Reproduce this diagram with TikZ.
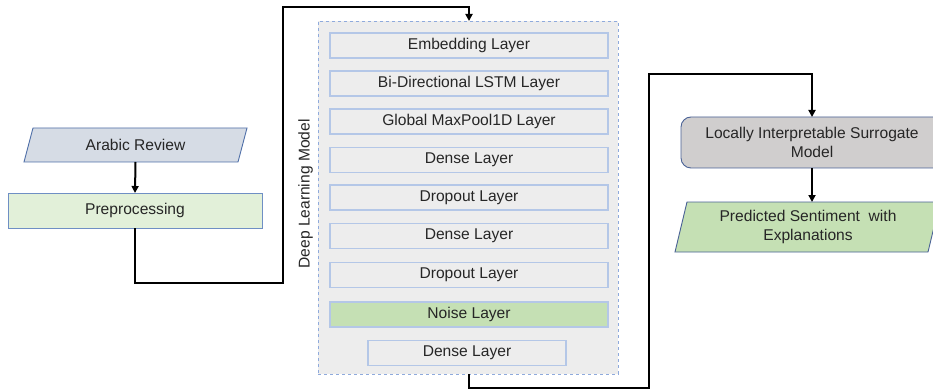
\documentclass[tikz,border=0pt]{standalone}
\usepackage{fontspec}
\setmainfont{Liberation Sans}
\usetikzlibrary{arrows.meta}
\definecolor{txt}{HTML}{262626}
\definecolor{arfill}{HTML}{D6DCE5}
\definecolor{arline}{HTML}{4F6FA8}
\definecolor{prfill}{HTML}{E2F0D9}
\definecolor{prline}{HTML}{6F8FC4}
\definecolor{cfill}{HTML}{EDEDED}
\definecolor{cline}{HTML}{8FAADC}
\definecolor{lline}{HTML}{B4C7E7}
\definecolor{nfill}{HTML}{C5E0B4}
\definecolor{lisfill}{HTML}{D0CECE}
\definecolor{lisline}{HTML}{4A6296}
\definecolor{pdfill}{HTML}{C5E0B4}
\tikzset{
  base/.style={inner sep=0pt, outer sep=0pt, font=\fontsize{15.6}{19}\selectfont, text=txt, align=center},
  layer/.style={base, draw=lline, line width=1.1pt, fill=cfill, minimum width=278pt, minimum height=25pt},
  conn/.style={draw=black, line width=2pt},
  arr/.style={conn, -{Triangle[length=7pt,width=7pt]}},
}
\begin{document}
\begin{tikzpicture}[x=1pt,y=-1pt]
\clip (0,0) rectangle (933,390);
\fill[white] (0,0) rectangle (933,390);
% input
\node[base, minimum width=223pt, minimum height=34pt] (ar) at (135.5,145) {Arabic Review};
\draw[arline, fill=arfill, line width=0.9pt] ([xshift=9pt]ar.north west) -- (ar.north east) -- ([xshift=-9pt]ar.south east) -- (ar.south west) -- cycle;
\node[base, minimum width=223pt, minimum height=34pt] at (135.5,145) {Arabic Review};
\node[base, draw=prline, fill=prfill, line width=0.9pt, minimum width=254pt, minimum height=35pt] (pre) at (135,210.5) {Preprocessing};
\draw[arr] (ar.south) -- (pre.north);
% container
\node[base, draw=cline, dashed, fill=cfill, line width=0.9pt, minimum width=300pt, minimum height=353pt] (dl) at (468,197.5) {};
\node[base, rotate=90] (dllab) at (305.5,194) {Deep Learning Model};
\node[layer] (l1) at (469,45.5) {Embedding Layer};
\node[layer] (l2) at (469,83.5) {Bi-Directional LSTM Layer};
\node[layer] (l3) at (469,121.5) {Global MaxPool1D Layer};
\node[layer] (l4) at (469,160) {Dense Layer};
\node[layer] (l5) at (469,197.5) {Dropout Layer};
\node[layer] (l6) at (469,236) {Dense Layer};
\node[layer] (l7) at (469,275) {Dropout Layer};
\node[layer, fill=nfill] (l8) at (469,314.5) {Noise Layer};
\node[layer, minimum width=198pt] (l9) at (467,353) {Dense Layer};
% output side
\node[base, draw=lisline, fill=lisfill, line width=0.9pt, rounded corners=10pt, minimum width=262pt, minimum height=51pt] (lis) at (812,142.5) {Locally Interpretable Surrogate\\Model};
\node[base, minimum width=265pt, minimum height=50pt] (pd) at (807.5,227) {};
\draw[lisline, fill=pdfill, line width=0.9pt] ([xshift=12pt]pd.north west) -- (pd.north east) -- ([xshift=-12pt]pd.south east) -- (pd.south west) -- cycle;
\node[base] (pdt) at (808,227) {Predicted Sentiment\ \ with\\Explanations};
\draw[arr] (lis.south) -- (pd.north -| lis.south);
% connectors
\coordinate (c1) at (135,283);
\coordinate (c2) at (283,283);
\coordinate (c3) at (283,7);
\coordinate (c4) at (469,7);
\draw[arr] (pre.south) -- (c1) -- (c2) -- (c3) -- (c4) -- (c4 |- dl.north);
\coordinate (d1) at (469,388);
\coordinate (d2) at (649,388);
\coordinate (d3) at (649,74);
\coordinate (d4) at (812,74);
\draw[arr] (dl.south -| d1) -- (d1) -- (d2) -- (d3) -- (d4) -- (lis.north);
\end{tikzpicture}
\end{document}
